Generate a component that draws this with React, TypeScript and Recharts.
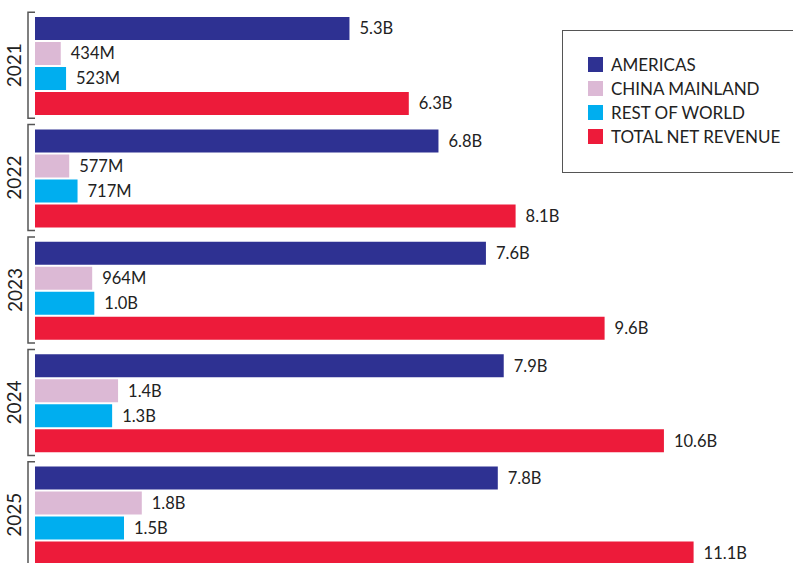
import React from 'react';
import { Bar, BarChart, LabelList, XAxis, YAxis } from 'recharts';

const years = ['2021', '2022', '2023', '2024', '2025'];
// values in billions of dollars
const americas = [5.3, 6.8, 7.6, 7.9, 7.8];
const chinaMainland = [0.434, 0.577, 0.964, 1.4, 1.8];
const restOfWorld = [0.523, 0.717, 1.0, 1.3, 1.5];
const totalNetRevenue = [6.3, 8.1, 9.6, 10.6, 11.1];

const series = [
  { key: 'americas', name: 'AMERICAS', color: '#2e3192' },
  { key: 'china', name: 'CHINA MAINLAND', color: '#dcb9d5' },
  { key: 'row', name: 'REST OF WORLD', color: '#00aeef' },
  { key: 'total', name: 'TOTAL NET REVENUE', color: '#ed1b3a' },
];

const data = years.map((year, i) => ({
  year,
  americas: americas[i],
  china: chinaMainland[i],
  row: restOfWorld[i],
  total: totalNetRevenue[i],
}));

const FONT = 'Lato, "Open Sans", sans-serif';

const fmt = (v: any) => {
  const n = Number(v);
  if (n < 1) return `${Math.round(n * 1000)}M`;
  return `${n.toFixed(1)}B`;
};

const YearTick = (props: any) => {
  const { x, y, payload } = props;
  const half = 53;
  const bx = x - 7;
  return (
    <g>
      <path
        d={`M${x},${y - half} H${bx} V${y + half} H${x}`}
        fill="none"
        stroke="#555"
        strokeWidth={1.5}
      />
      <text
        x={x - 21}
        y={y}
        transform={`rotate(-90, ${x - 21}, ${y})`}
        textAnchor="middle"
        dominantBaseline="central"
        fontSize={19}
        fill="#222"
        fontFamily={FONT}
      >
        {payload.value}
      </text>
    </g>
  );
};

const LegendBox = () => (
  <div
    style={{
      position: 'absolute',
      left: 562,
      top: 30,
      width: 260,
      height: 143,
      border: '1.5px solid #555',
      boxSizing: 'border-box',
      padding: '21px 0 0 25px',
      fontFamily: FONT,
      fontSize: 17,
      color: '#222',
    }}
  >
    {series.map((s) => (
      <div key={s.key} style={{ display: 'flex', alignItems: 'center', height: 24 }}>
        <span style={{ width: 15, height: 15, background: s.color, marginRight: 8, display: 'inline-block' }} />
        <span>{s.name}</span>
      </div>
    ))}
  </div>
);

export default function App() {
  return (
    <div style={{ position: 'absolute', left: 0, top: 0, width: 793, height: 563, overflow: 'hidden', background: '#fff' }}>
      <BarChart
        width={793}
        height={571}
        data={data}
        layout="vertical"
        margin={{ top: 9, right: 46, bottom: 0, left: 0 }}
        barCategoryGap={8}
        barGap={2}
      >
        <XAxis type="number" domain={[0, 12]} hide />
        <YAxis
          type="category"
          dataKey="year"
          width={35}
          axisLine={false}
          tickLine={false}
          tickSize={0}
          tickMargin={0}
          tick={<YearTick />}
        />
        {series.map((s) => (
          <Bar key={s.key} dataKey={s.key} name={s.name} fill={s.color} isAnimationActive={false}>
            <LabelList
              dataKey={s.key}
              position="right"
              offset={10}
              formatter={fmt}
              style={{ fontSize: 16.5, fill: '#222', fontFamily: FONT }}
            />
          </Bar>
        ))}
      </BarChart>
      <LegendBox />
    </div>
  );
}
